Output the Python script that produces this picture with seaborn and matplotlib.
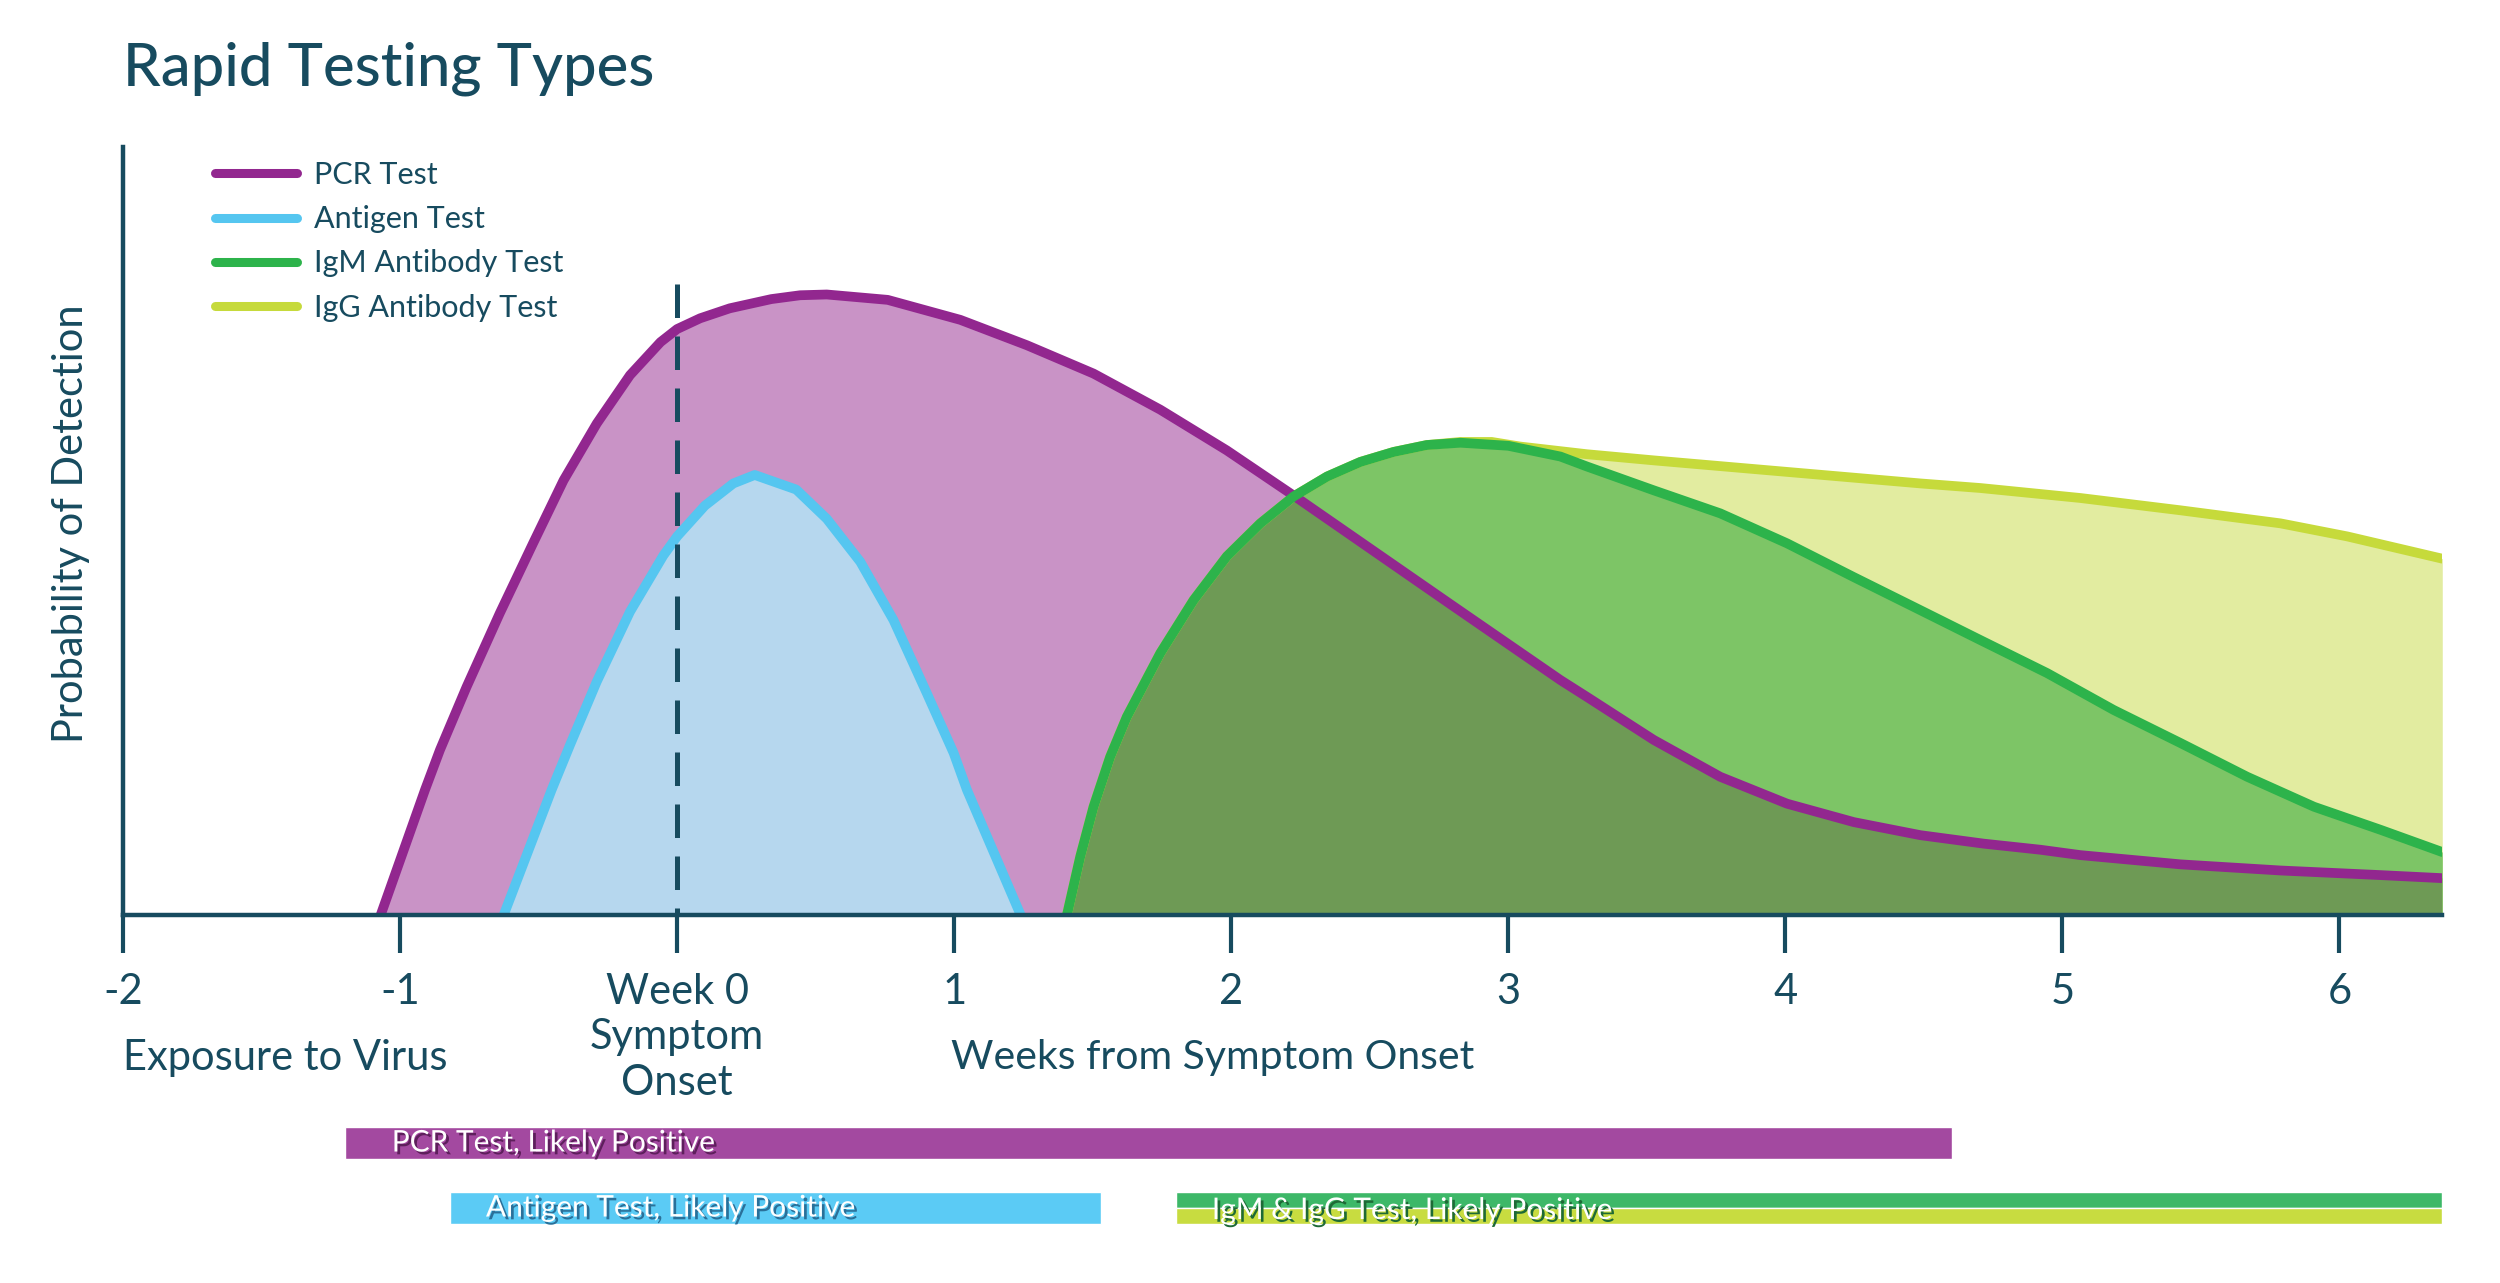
import numpy as np
import pandas as pd
import matplotlib
matplotlib.use('Agg')
import matplotlib.pyplot as plt
import matplotlib.patheffects as pe
from matplotlib.lines import Line2D
from matplotlib.transforms import blended_transform_factory
import seaborn as sns

# probability of detection (0..1 of the axis height) against weeks from symptom onset
pcr_weeks = [-1.07, -0.91, -0.856, -0.76, -0.64, -0.52, -0.41, -0.29, -0.17, -0.06, 0.0, 0.083,
             0.19, 0.34, 0.444, 0.54, 0.76, 1.022, 1.262, 1.503, 1.744, 1.984, 2.23, 2.49,
             2.79, 2.995, 3.188, 3.284, 3.525, 3.765, 4.006, 4.247, 4.487, 4.715, 4.921,
             5.065, 5.426, 5.787, 6.148, 6.371]
pcr = [0.0, 0.163, 0.215, 0.297, 0.393, 0.484, 0.566, 0.64, 0.703, 0.746, 0.763, 0.777,
       0.79, 0.802, 0.807, 0.808, 0.801, 0.775, 0.742, 0.705, 0.658, 0.605, 0.545, 0.48,
       0.405, 0.354, 0.306, 0.284, 0.228, 0.18, 0.145, 0.121, 0.104, 0.093, 0.085,
       0.078, 0.066, 0.058, 0.052, 0.048]

antigen_weeks = [-0.626, -0.453, -0.386, -0.29, -0.17, -0.05, 0.0, 0.10, 0.203, 0.28, 0.43,
                 0.54, 0.661, 0.781, 0.901, 0.998, 1.046, 1.24]
antigen = [0.0, 0.163, 0.222, 0.304, 0.395, 0.468, 0.493, 0.533, 0.562, 0.573, 0.554,
           0.516, 0.46, 0.384, 0.289, 0.211, 0.163, 0.0]

igm_weeks = [1.407, 1.455, 1.503, 1.563, 1.623, 1.744, 1.864, 1.984, 2.105, 2.225, 2.346,
             2.466, 2.586, 2.706, 2.827, 3.0, 3.188, 3.284, 3.525, 3.765, 4.006, 4.247,
             4.487, 4.704, 4.945, 5.185, 5.426, 5.667, 5.908, 6.148, 6.371]
igm = [0.0, 0.076, 0.141, 0.206, 0.258, 0.341, 0.41, 0.467, 0.51, 0.545, 0.571,
       0.59, 0.603, 0.612, 0.615, 0.611, 0.597, 0.584, 0.553, 0.523, 0.484, 0.44,
       0.397, 0.358, 0.315, 0.267, 0.224, 0.18, 0.141, 0.111, 0.082]

igg_weeks = [1.407, 1.455, 1.503, 1.563, 1.623, 1.744, 1.864, 1.984, 2.105, 2.225, 2.346,
             2.466, 2.586, 2.706, 2.827, 2.94, 3.043, 3.284, 3.525, 4.006, 4.487, 4.704,
             5.065, 5.426, 5.787, 6.028, 6.371]
igg = [0.0, 0.076, 0.141, 0.206, 0.258, 0.341, 0.41, 0.467, 0.51, 0.545, 0.571,
       0.59, 0.603, 0.612, 0.616, 0.616, 0.61, 0.60, 0.592, 0.577, 0.562, 0.556,
       0.543, 0.527, 0.51, 0.493, 0.464]

tick_weeks = [-2, -1, 0, 1, 2, 3, 4, 5, 6]
tick_labels = ['-2', '-1', 'Week 0\nSymptom\nOnset', '1', '2', '3', '4', '5', '6']

# "likely positive" windows (weeks)
pcr_window = (-1.2, 4.6)
antigen_window = (-0.82, 1.53)
antibody_window = (1.8, 6.37)

onset_week = 0
onset_line_top = 0.822

teal = '#174b5f'
c_pcr, f_pcr, b_pcr = '#92278f', '#c993c6', '#a349a0'
c_ag, f_ag, b_ag = '#55c6f0', '#b6d7ee', '#5bcbf5'
c_igm, f_igm, b_igm = '#2db34b', '#7dc566', '#3db868'
c_igg, f_igg, b_igg = '#c6da3b', '#e2eca0', '#c8dc40'
f_overlap = '#6e9a55'

sns.set_theme(style='white')
plt.rcParams['font.family'] = ['Lato', 'DejaVu Sans']

fig = plt.figure(figsize=(25, 12.83), dpi=100)
ax = fig.add_axes([0.0492, 0.2868, 0.9276, 0.5986])

# filled areas; the PCR/IgM overlap is the IgM area clipped to the PCR area
pcr_fill = ax.fill_between(pcr_weeks, 0, pcr, color=f_pcr, lw=0, zorder=1)
ax.fill_between(igg_weeks, 0, igg, color=f_igg, lw=0, zorder=1.1)
ax.fill_between(igm_weeks, 0, igm, color=f_igm, lw=0, zorder=1.2)
overlap = ax.fill_between(igm_weeks, 0, igm, color=f_overlap, lw=0, zorder=1.3)
overlap.set_clip_path(pcr_fill.get_paths()[0], ax.transData)
ax.fill_between(antigen_weeks, 0, antigen, color=f_ag, lw=0, zorder=1.4)

# outlines
lw = 7
line_kw = dict(lw=lw, ax=ax, solid_joinstyle='round')
sns.lineplot(x=igg_weeks, y=igg, color=c_igg, zorder=2, **line_kw)
sns.lineplot(x=pcr_weeks, y=pcr, color=c_pcr, zorder=2.1, **line_kw)
sns.lineplot(x=igm_weeks, y=igm, color=c_igm, zorder=2.2, **line_kw)
sns.lineplot(x=antigen_weeks, y=antigen, color=c_ag, zorder=2.3, **line_kw)

# symptom onset marker (dashes start from the top)
ax.vlines(onset_week, onset_line_top, 0, colors=teal, lw=3.6,
          linestyles=(0, (6.7, 3.7)), zorder=3)

ax.set_xlim(-2, 6.37)
ax.set_ylim(0, 1)
sns.despine(ax=ax)
for side in ['left', 'bottom']:
    ax.spines[side].set_color(teal)
    ax.spines[side].set_linewidth(3.2)
    ax.spines[side].set_zorder(4)
ax.set_yticks([])
ax.set_xticks(tick_weeks)
ax.set_xticklabels(tick_labels, linespacing=1.25)
ax.tick_params(axis='x', length=27, width=3, color=teal, pad=14.5,
               labelsize=30, labelcolor=teal, bottom=True)
ax.set_xlabel('')
ax.set_ylabel('Probability of Detection', fontsize=30, color=teal)
ax.yaxis.set_label_coords(-0.0142, 0.51)

trans = blended_transform_factory(ax.transData, fig.transFigure)
ax.text(-2, 0.1754, 'Exposure to Virus', transform=trans, ha='left', va='center',
        fontsize=30, color=teal)
ax.text(0.99, 0.1754, 'Weeks from Symptom Onset', transform=trans, ha='left', va='center',
        fontsize=29.5, color=teal)

fig.text(0.0492, 0.9465, 'Rapid Testing Types', fontsize=43, color=teal,
         ha='left', va='center', fontweight='medium')

handles = [Line2D([], [], color=c_pcr, lw=6.5, label='PCR Test'),
           Line2D([], [], color=c_ag, lw=6.5, label='Antigen Test'),
           Line2D([], [], color=c_igm, lw=6.5, label='IgM Antibody Test'),
           Line2D([], [], color=c_igg, lw=6.5, label='IgG Antibody Test')]
ax.legend(handles=handles, loc='upper left', bbox_to_anchor=(0.086, 0.8745),
          bbox_transform=fig.transFigure, frameon=False, fontsize=22,
          handlelength=2.68, handletextpad=0.55, labelspacing=0.53,
          borderpad=0, borderaxespad=0, labelcolor=teal)

# likely-positive bars (bar axes spans 140 px, y measured from its top)
bx = fig.add_axes([0.0492, 0.0335, 0.9276, 0.1091])
bx.set_xlim(-2, 6.37)
bx.set_ylim(140, 0)
bx.axis('off')
bx.barh(42.5, pcr_window[1] - pcr_window[0], left=pcr_window[0], height=32, color=b_pcr)
bx.barh(107.5, antigen_window[1] - antigen_window[0], left=antigen_window[0], height=32, color=b_ag)
bx.barh(99.8, antibody_window[1] - antibody_window[0], left=antibody_window[0], height=16.6, color=b_igm)
bx.barh(116.1, antibody_window[1] - antibody_window[0], left=antibody_window[0], height=16, color=b_igg)

bar_texts = [(pcr_window[0] + 0.17, 42.5, 'PCR Test, Likely Positive', '#5e1f5c'),
             (antigen_window[0] + 0.13, 107.5, 'Antigen Test, Likely Positive', '#2a7099'),
             (antibody_window[0] + 0.13, 110, 'IgM & IgG Test, Likely Positive', '#1e6a36')]
for x0, y0, label, shadow in bar_texts:
    bx.text(x0, y0, label, color='white', fontsize=21.5, ha='left', va='center',
            path_effects=[pe.withSimplePatchShadow(offset=(2, -2), shadow_rgbFace=shadow, alpha=1)])

fig.savefig('out.png', dpi=100)
